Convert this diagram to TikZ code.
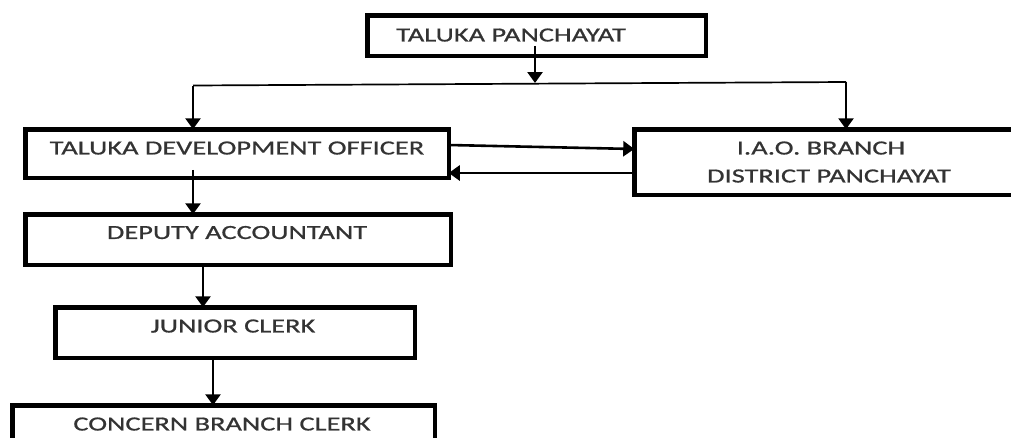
\documentclass[tikz,border=0pt]{standalone}
\usepackage{fontspec}
\setmainfont{Carlito}[FakeStretch=1.42,FakeBold=0.8]
\usetikzlibrary{arrows.meta,calc}
\begin{document}
\begin{tikzpicture}[x=1pt,y=-1pt,
  box/.style={draw=black,line width=4.5pt,fill=white,inner sep=0pt,outer sep=0pt},
  lbl/.style={inner sep=0pt,text height=12.9pt,text depth=0pt,text=black!80,font=\fontsize{20}{24}\selectfont},
  arr/.style={line width=2.6pt,-{Triangle[width=15pt,length=11pt]}},
  thin/.style={line width=1.7pt}]
\useasboundingbox (0,0) rectangle (1011,437);
% boxes (outer extents measured)
\node[box,minimum width=338.5pt,minimum height=40.5pt] (tp) at (536.5,35.5) {};
\node[box,minimum width=423.5pt,minimum height=48.5pt] (tdo) at (237,153.5) {};
\node[box,minimum width=383.5pt,minimum height=65.5pt] (iao) at (826,162) {};
\node[box,minimum width=425.5pt,minimum height=50.5pt] (dep) at (238,239.5) {};
\node[box,minimum width=359.5pt,minimum height=50.5pt] (jc) at (235,332.5) {};
\node[box,minimum width=422.5pt,minimum height=52.5pt] (cbc) at (223.5,431.5) {};
% labels
\node[lbl] (tpt) at (511,35) {TALUKA PANCHAYAT};
\node[lbl] (tdot) at (237,148) {TALUKA DEVELOPMENT OFFICER};
\node[lbl] (iaot1) at (821,148) {I.A.O. BRANCH};
\node[lbl] (iaot2) at (829,176) {DISTRICT PANCHAYAT};
\node[lbl] (dept) at (237,232.5) {DEPUTY ACCOUNTANT};
\node[lbl] (jct) at (233,326) {JUNIOR CLERK};
\node[lbl] (cbct) at (222,424) {CONCERN BRANCH CLERK};
% split line
\coordinate (split) at (535,83);
\coordinate (lc) at (193,85.5);
\coordinate (rc) at (846,82);
\draw[arr] ($(tp.south -| split)+(0,-10)$) -- (split);
\draw[thin] (lc) -- (rc);
\draw[arr] (lc) -- (lc |- tdo.north);
\draw[arr] (rc) -- (rc |- iao.north);
% side arrows
\draw[arr] ($(tdo.east)+(0,-8.5)$) -- ($(iao.west)+(0,-13)$);
\draw[arr] ($(iao.west)+(0,11)$) -- ($(tdo.east)+(0,19.5)$);
% chain
\draw[arr] ($(tdo.south)+(-44,-8)$) -- ($(dep.north)+(-45,0)$);
\draw[arr] ($(dep.south)+(-35,0)$) -- ($(jc.north)+(-32,0)$);
\draw[arr] ($(jc.south)+(-22,0)$) -- ($(cbc.north)+(-10.5,0)$);
\end{tikzpicture}
\end{document}
